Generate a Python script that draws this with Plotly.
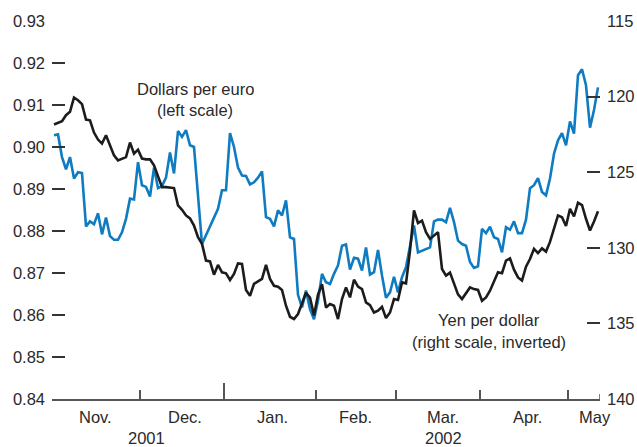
import plotly.graph_objects as go

# x = weekday index counted from Thu 1 Nov 2001 (0) to Fri 10 May 2002 (136)
days = list(range(137))

# Dollars per euro (left scale); None = no reading (holiday gap)
usd_per_eur = [
    0.9028, 0.9030, 0.8976, 0.8947, 0.8976, 0.8925, 0.8940, 0.8938, 0.8811, 0.8823,
    0.8816, 0.8842, 0.8792, 0.8832, 0.8788, 0.8779, 0.8779, 0.8797, 0.8829, 0.8877,
    0.8875, 0.8964, 0.8909, 0.8905, 0.8882, 0.8951, 0.8902, 0.8907, 0.8927, 0.8987,
    0.8937, 0.9038, 0.9024, 0.9040, 0.9004, 0.9000, None, 0.8769, None, 0.8809,
    None, 0.8853, 0.8897, 0.8897, 0.9033, 0.9000, 0.8951, 0.8932, 0.8931, 0.8911,
    0.8916, 0.8927, 0.8942, 0.8833, 0.8829, 0.8811, 0.8849, 0.8837, 0.8873, 0.8785,
    0.8781, 0.8648, 0.8618, 0.8658, 0.8614, 0.8590, 0.8634, 0.8698, 0.8678, 0.8674,
    0.8698, 0.8718, 0.8765, 0.8768, 0.8708, 0.8736, 0.8734, 0.8706, 0.8761, 0.8696,
    0.8702, 0.8755, 0.8694, 0.8641, 0.8654, 0.8691, 0.8654, 0.8690, 0.8714, 0.8761,
    0.8813, 0.8749, 0.8753, 0.8757, 0.8761, 0.8823, 0.8827, 0.8827, 0.8821, 0.8855,
    0.8821, 0.8777, 0.8769, 0.8765, 0.8726, 0.8712, 0.8716, 0.8805, 0.8795, 0.8810,
    0.8785, 0.8781, 0.8749, 0.8809, 0.8803, 0.8823, 0.8795, 0.8795, 0.8827, 0.8902,
    0.8909, 0.8926, 0.8893, 0.8885, 0.8925, 0.8984, 0.9016, 0.9033, 0.9004, 0.9061,
    0.9032, 0.9171, 0.9185, 0.9147, 0.9046, 0.9088, 0.9142,
]

# Yen per dollar (right scale, inverted)
yen_per_usd = [
    121.85, 121.72, 121.63, 121.23, 121.01, 120.06, 120.24, 120.50, 121.52, 121.57,
    122.38, 122.84, 123.11, 122.56, 123.22, 123.89, 124.22, 124.10, 124.00, 123.04,
    123.77, 123.51, 124.10, 124.15, 124.15, 124.55, 125.21, 125.99, 125.99, 126.03,
    126.05, 127.20, 127.49, 127.86, 128.06, 128.53, 129.30, 129.74, 130.85, 130.90,
    131.78, 131.13, 131.62, 131.69, 132.13, 131.73, 131.03, 131.07, 132.79, 133.17,
    132.39, 132.22, 132.06, 131.13, 132.06, 132.51, 132.57, 132.79, 133.83, 134.56,
    134.71, 134.38, 133.72, 132.97, 133.30, 134.47, 133.10, 132.41, 133.95, 133.72,
    133.83, 134.71, 133.39, 132.62, 133.28, 132.11, 132.57, 132.73, 133.61, 133.79,
    134.28, 134.16, 133.90, 134.65, 134.28, 133.39, 133.45, 132.29, 132.35, 130.19,
    127.53, 128.36, 128.20, 128.97, 129.41, 129.16, 128.97, 131.40, 131.84, 131.64,
    132.39, 133.08, 133.39, 133.02, 132.62, 132.73, 132.79, 133.50, 133.28, 132.84,
    132.21, 131.62, 131.68, 130.85, 130.70, 131.45, 131.96, 132.17, 131.25, 130.74,
    130.07, 130.35, 130.04, 130.25, 129.61, 128.79, 127.86, 127.98, 128.56, 127.42,
    127.93, 127.02, 127.17, 128.08, 128.86, 128.26, 127.58,
]

# month boundaries (weekday index) and labels
month_bounds = [-0.5, 21.5, 42.5, 65.5, 85.5, 106.5, 128.5, 136.5]
month_labels = ["Nov.", "Dec.", "Jan.", "Feb.", "Mar.", "Apr.", "May"]
month_label_x = [10.3, 32.7, 54.6, 75.3, 97.3, 118.3, 135.2]
year_labels = ["2001", "2002"]
year_label_x = [23.0, 97.3]

left_ticks = [0.84, 0.85, 0.86, 0.87, 0.88, 0.89, 0.90, 0.91, 0.92, 0.93]
right_ticks = [115, 120, 125, 130, 135, 140]

FONT = "Liberation Sans, Arial, sans-serif"
FS = 16.5
TXT = "#2a2a2a"
BLUE = "#0f7cc1"
BLACK = "#1c1c1c"
AXIS = "#555555"

fig = go.Figure()
fig.add_trace(go.Scatter(x=days, y=yen_per_usd, mode="lines", yaxis="y2",
                         line=dict(color=BLACK, width=2.6), connectgaps=True,
                         showlegend=False, hoverinfo="skip"))
fig.add_trace(go.Scatter(x=days, y=usd_per_eur, mode="lines", yaxis="y",
                         line=dict(color=BLUE, width=2.6), connectgaps=True,
                         showlegend=False, hoverinfo="skip"))

annotations = []
for lab, xv in zip(month_labels, month_label_x):
    annotations.append(dict(x=xv, y=0, xref="x", yref="paper", text=lab,
                            showarrow=False, yanchor="middle", yshift=-18,
                            font=dict(family=FONT, size=FS, color=TXT)))
for lab, xv in zip(year_labels, year_label_x):
    annotations.append(dict(x=xv, y=0, xref="x", yref="paper", text=lab,
                            showarrow=False, yanchor="middle", yshift=-39,
                            font=dict(family=FONT, size=FS, color=TXT)))
series_labels = [
    ("Dollars per euro", 35.3, 0.9139),
    ("(left scale)", 35.3, 0.9089),
    ("Yen per dollar", 108.8, 0.8587),
    ("(right scale, inverted)", 108.8, 0.8536),
]
for lab, xv, yv in series_labels:
    annotations.append(dict(x=xv, y=yv, xref="x", yref="y", text=lab,
                            showarrow=False, yanchor="middle", xanchor="center",
                            font=dict(family=FONT, size=FS, color=TXT)))

fig.update_layout(
    width=637, height=447,
    margin=dict(l=52, r=37, t=21, b=48, autoexpand=False),
    paper_bgcolor="white", plot_bgcolor="white",
    font=dict(family=FONT, size=FS, color=TXT),
    xaxis=dict(range=[month_bounds[0], month_bounds[-1]], showgrid=False, zeroline=False,
               showline=True, linecolor=AXIS, linewidth=1.5, automargin=False,
               tickmode="array", tickvals=[month_bounds[2]], ticks="inside",
               ticklen=16, tickwidth=1.5, tickcolor=AXIS, showticklabels=False,
               minor=dict(tickmode="array",
                          tickvals=[b for i, b in enumerate(month_bounds[:-1]) if i != 2],
                          ticks="inside", ticklen=9, tickwidth=1.5, tickcolor=AXIS)),
    yaxis=dict(range=[0.84, 0.93], showgrid=False, zeroline=False, showline=False,
               automargin=False, tickmode="array", tickvals=left_ticks,
               ticktext=[f"{v:.2f}" for v in left_ticks],
               ticks="inside", ticklen=13, tickwidth=1.5, tickcolor="#333333",
               ticklabelstandoff=6, tickfont=dict(family=FONT, size=FS, color=TXT)),
    yaxis2=dict(range=[140, 115], overlaying="y", side="right", showgrid=False,
                zeroline=False, showline=False, automargin=False,
                tickmode="array", tickvals=right_ticks,
                ticks="inside", ticklen=13, tickwidth=1.5, tickcolor="#333333",
                ticklabelstandoff=6, tickfont=dict(family=FONT, size=FS, color=TXT)),
    annotations=annotations,
    shapes=[dict(type="line", xref="x", yref="paper", x0=month_bounds[-1],
                 x1=month_bounds[-1], y0=0, y1=5 / 378,
                 line=dict(color=AXIS, width=1.5))],
)

fig.write_html("out.html", config={"displayModeBar": False},
               post_script="document.body.style.margin='0';document.body.style.overflow='hidden';")
